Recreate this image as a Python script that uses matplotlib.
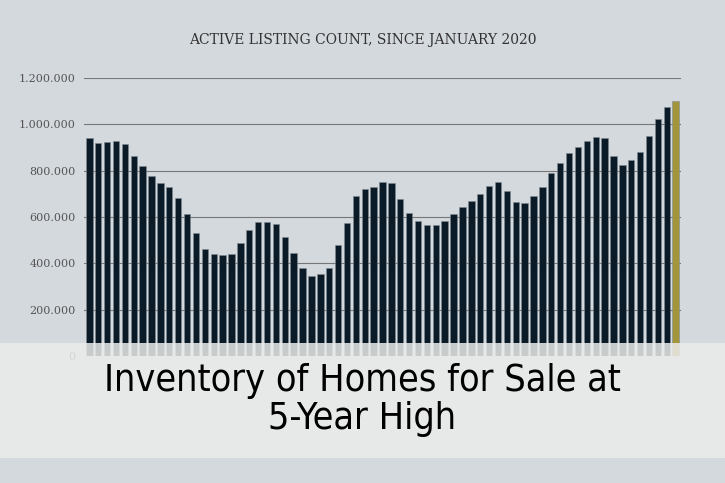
import matplotlib
matplotlib.use("Agg")
import matplotlib.pyplot as plt
from matplotlib.patches import Rectangle
from matplotlib.ticker import FuncFormatter

values_k = [940, 920, 925, 928, 915, 862, 818, 775, 745, 730, 680, 612, 530, 462, 440, 435,
            442, 488, 545, 578, 580, 568, 512, 445, 378, 345, 352, 378, 480, 572, 690, 720,
            730, 750, 748, 678, 618, 582, 565, 565, 582, 612, 645, 668, 698, 735, 752, 712,
            665, 662, 690, 728, 788, 835, 875, 902, 930, 945, 940, 862, 825, 845, 880, 950,
            1025, 1075, 1100]
values = [v * 1000 for v in values_k]
yticks = [0, 200000, 400000, 600000, 800000, 1000000, 1200000]
title = "Active Listing Count, Since January 2020"
banner = "Inventory of Homes for Sale at\n5-Year High"

bg = "#d4d9de"
fig = plt.figure(figsize=(7.25, 4.83), dpi=100, facecolor=bg)
ax = fig.add_axes([84/725, 127/483, (681-84)/725, (356-78)/483])
ax.set_facecolor(bg)
x = list(range(len(values)))
colors = ["#0a1a26"] * (len(values) - 1) + ["#a3953c"]
ax.bar(x, values, width=0.72, color=colors, edgecolor="#7f8a94", linewidth=0.4, zorder=3)
ax.set_xlim(-0.6, len(values) - 0.4)
ax.set_ylim(0, 1200000)
ax.set_yticks(yticks)
ax.yaxis.set_major_formatter(FuncFormatter(lambda v, p: f"{int(v):,}".replace(",", ".")))
ax.grid(axis="y", color="#777777", linewidth=0.8, zorder=0)
for s in ax.spines.values():
    s.set_visible(False)
ax.set_xticks([])
ax.tick_params(axis="y", length=0, labelsize=8, labelcolor="#555555", pad=6)
for t in ax.get_yticklabels():
    t.set_family("DejaVu Serif")

fig.text(0.5, 1 - 40/483, title.upper(), ha="center", va="center", family="DejaVu Serif",
         fontsize=10, color="#333333")

band = Rectangle((0, 25/483), 1, 115/483, transform=fig.transFigure,
                 facecolor="#ebebea", alpha=0.85, edgecolor="none", zorder=5)
fig.add_artist(band)
fig.text(0.5, 1 - 400/483, banner, ha="center", va="center", fontsize=27,
         family="DejaVu Sans", fontstretch="condensed", color="#000000",
         linespacing=1.1, zorder=6)

fig.savefig("out.png", dpi=100, facecolor=bg)
